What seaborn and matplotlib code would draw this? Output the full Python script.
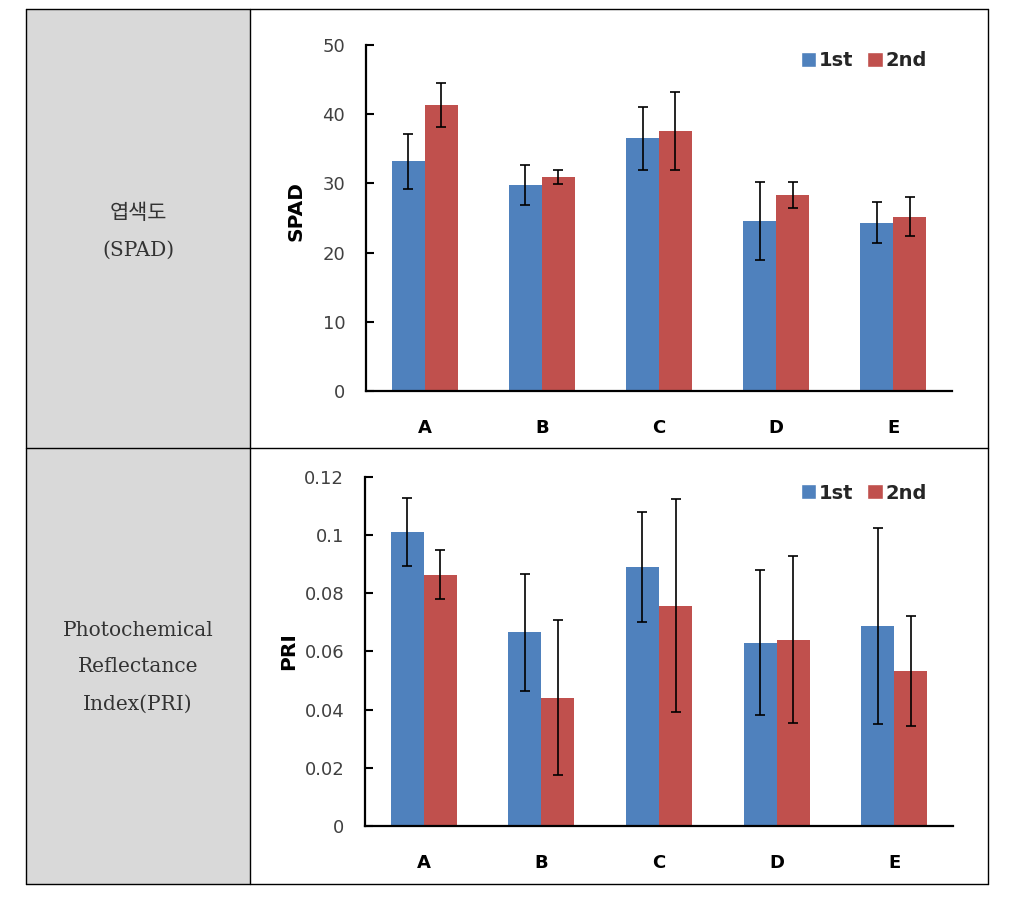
import matplotlib
matplotlib.use("Agg")
import matplotlib.pyplot as plt
import seaborn as sns
import pandas as pd
import numpy as np
from matplotlib.patches import Rectangle, Patch

categories = ["A", "B", "C", "D", "E"]
series = ["1st", "2nd"]

spad_1st = [33.2, 29.8, 36.5, 24.6, 24.3]
spad_2nd = [41.3, 30.9, 37.6, 28.3, 25.2]
spad_err_1st = [4.0, 2.9, 4.6, 5.6, 2.95]
spad_err_2nd = [3.15, 1.0, 5.65, 1.9, 2.8]

pri_1st = [0.101, 0.0665, 0.0889, 0.0630, 0.0687]
pri_2nd = [0.0863, 0.0440, 0.0757, 0.0640, 0.0532]
pri_err_1st = [0.0117, 0.0200, 0.0189, 0.0250, 0.0338]
pri_err_2nd = [0.0084, 0.0266, 0.0367, 0.0286, 0.0190]

spad_ticks = [0, 10, 20, 30, 40, 50]
spad_ticklabels = ["0", "10", "20", "30", "40", "50"]
pri_ticks = [0, 0.02, 0.04, 0.06, 0.08, 0.10, 0.12]
pri_ticklabels = ["0", "0.02", "0.04", "0.06", "0.08", "0.1", "0.12"]

row_labels_1 = ["엽색도", "(SPAD)"]
row_labels_2 = ["Photochemical", "Reflectance", "Index(PRI)"]

BLUE = "#4F81BD"
RED = "#C0504D"
W, H = 1017, 897

sns.set_style("white")
plt.rcParams['font.family'] = ['DejaVu Sans', 'Noto Sans CJK KR']

fig = plt.figure(figsize=(W / 100, H / 100), dpi=100)

# table background
bg = fig.add_axes([0, 0, 1, 1], zorder=-1)
bg.set_xlim(0, W)
bg.set_ylim(H, 0)
bg.axis("off")
bg.add_patch(Rectangle((26, 9), 250 - 26, 884 - 9, facecolor="#d9d9d9", edgecolor="none"))
for y in (9, 448, 884):
    bg.plot([26, 988], [y, y], color="black", lw=1.0)
for x in (26, 250, 988):
    bg.plot([x, x], [9, 884], color="black", lw=1.0)

serif = ['DejaVu Serif', 'Noto Sans CJK KR']
bg.text(138, 213, row_labels_1[0], ha="center", va="center", fontsize=15,
        family=['Noto Sans CJK KR', 'DejaVu Serif'], color="#333333")
bg.text(138, 250, row_labels_1[1], ha="center", va="center", fontsize=14.5,
        family=serif, color="#333333")
for i, t in enumerate(row_labels_2):
    bg.text(138, 630 + 37 * i, t, ha="center", va="center", fontsize=14.5,
            family=serif, color="#333333")


def draw(rect, v1, v2, e1, e2, ymax, ticks, ticklabels, ylabel, lab_xy, leg_y):
    ax = fig.add_axes(rect)
    df = pd.DataFrame({
        "cat": categories * 2,
        "series": [series[0]] * len(categories) + [series[1]] * len(categories),
        "val": list(v1) + list(v2),
    })
    sns.barplot(data=df, x="cat", y="val", hue="series", hue_order=series,
                palette=[BLUE, RED], width=0.5625, errorbar=None,
                saturation=1, ax=ax, legend=False, linewidth=0)
    for cont, errs in zip(ax.containers, (e1, e2)):
        xs = [p.get_x() + p.get_width() / 2 for p in cont]
        ys = [p.get_height() for p in cont]
        ax.errorbar(xs, ys, yerr=errs, fmt="none", ecolor="black",
                    elinewidth=1.2, capsize=3.8, capthick=1.2, zorder=5)
    ax.set_xlim(-0.5, len(categories) - 0.5)
    ax.set_ylim(0, ymax)
    ax.set_yticks(ticks)
    ax.set_yticklabels(ticklabels)
    ax.set_xticks(range(len(categories)))
    ax.set_xticklabels(categories, fontweight="bold")
    ax.set_xticks(np.arange(-0.5, len(categories), 1), minor=True)
    ax.tick_params(axis="x", which="major", length=0, pad=20, labelsize=13,
                   labelcolor="black")
    ax.tick_params(axis="x", which="minor", direction="out", length=5, width=2,
                   color="black")
    ax.tick_params(axis="y", which="major", direction="in", length=6, width=1.5,
                   color="black", pad=15, labelsize=13, labelcolor="#404040", left=True)
    for s in ("top", "right"):
        ax.spines[s].set_visible(False)
    for s in ("left", "bottom"):
        ax.spines[s].set_color("black")
        ax.spines[s].set_linewidth(1.6)
    ax.set_xlabel("")
    ax.set_ylabel(ylabel, fontsize=14.5, fontweight="bold", color="black")
    ax.yaxis.set_label_coords(*lab_xy)
    handles = [Patch(facecolor=BLUE), Patch(facecolor=RED)]
    ax.legend(handles, series, loc="center", bbox_to_anchor=(864 / W, leg_y),
              bbox_transform=fig.transFigure, ncol=2, frameon=False,
              prop=dict(weight="bold", size=14),
              handlelength=0.78, handleheight=0.78, handletextpad=0.15,
              columnspacing=0.7)
    return ax


draw([366 / W, 1 - 391 / H, 586 / W, 346 / H], spad_1st, spad_2nd,
     spad_err_1st, spad_err_2nd, 50, spad_ticks, spad_ticklabels, "SPAD",
     (-0.104, 0.52), 1 - 60.5 / H)
draw([365 / W, 1 - 826 / H, 588 / W, 349.3 / H], pri_1st, pri_2nd,
     pri_err_1st, pri_err_2nd, 0.12, pri_ticks, pri_ticklabels, "PRI",
     (-0.114, 0.50), 1 - 493 / H)

fig.savefig("out.png", dpi=100)
